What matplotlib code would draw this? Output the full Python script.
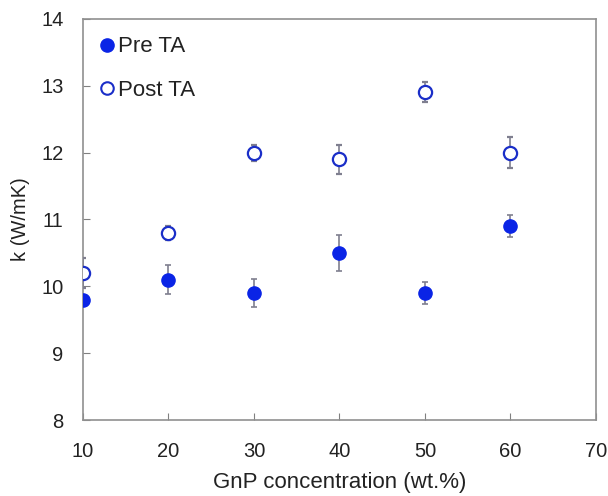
import matplotlib
matplotlib.use("Agg")
import matplotlib.pyplot as plt
from matplotlib.lines import Line2D

plt.rcParams['font.family'] = ['Liberation Sans', 'DejaVu Sans']

conc = [10, 20, 30, 40, 50, 60]
pre_k = [9.8, 10.1, 9.9, 10.5, 9.9, 10.9]
pre_err = [0.05, 0.22, 0.21, 0.27, 0.17, 0.16]
post_k = [10.2, 10.8, 12.0, 11.9, 12.9, 12.0]
post_err = [0.23, 0.1, 0.12, 0.22, 0.15, 0.23]

fig = plt.figure(figsize=(6.08, 4.96), dpi=100)
ax = fig.add_axes([0.1365, 0.153, 0.8435, 0.809])

blue = '#0a24e6'
oblue = '#1a2ec8'
ax.errorbar(conc, pre_k, yerr=pre_err, fmt='o', color=blue, ms=9.5,
            ecolor='#7f7f8f', elinewidth=1.2, capsize=2.5, capthick=1.2,
            zorder=3)
ax.errorbar(conc, post_k, yerr=post_err, fmt='o', mfc='white', mec=oblue,
            mew=1.6, ms=9.5, ecolor='#7f7f8f', elinewidth=1.2, capsize=2.5,
            capthick=1.2, zorder=3)

ax.set_xlim(10, 70)
ax.set_ylim(8, 14)
ax.set_xticks([10, 20, 30, 40, 50, 60, 70])
ax.set_yticks([8, 9, 10, 11, 12, 13, 14])
ax.tick_params(direction='in', length=5, color='#808080', labelsize=14.5,
               labelcolor='#222222')
ax.tick_params(axis='y', pad=14)
ax.tick_params(axis='x', pad=16)
for s in ax.spines.values():
    s.set_color('#909090')
    s.set_linewidth(1.2)

ax.set_xlabel('GnP concentration (wt.%)', fontsize=16, labelpad=8, color='#222222')
ax.set_ylabel('k (W/mK)', fontsize=14.5, labelpad=8, color='#222222')

handles = [Line2D([], [], ls='none', marker='o', color=blue, ms=9.5),
           Line2D([], [], ls='none', marker='o', mfc='white', mec=oblue, mew=1.5, ms=9)]
ax.legend(handles, ['Pre TA', 'Post TA'], loc='upper left', frameon=False,
          bbox_to_anchor=(0.0115, 0.973), borderaxespad=0.0,
          fontsize=16, handletextpad=0.0,
          labelspacing=1.0, handlelength=1.0, borderpad=0.3,
          labelcolor='#222222')

fig.savefig('out.png', dpi=100)
